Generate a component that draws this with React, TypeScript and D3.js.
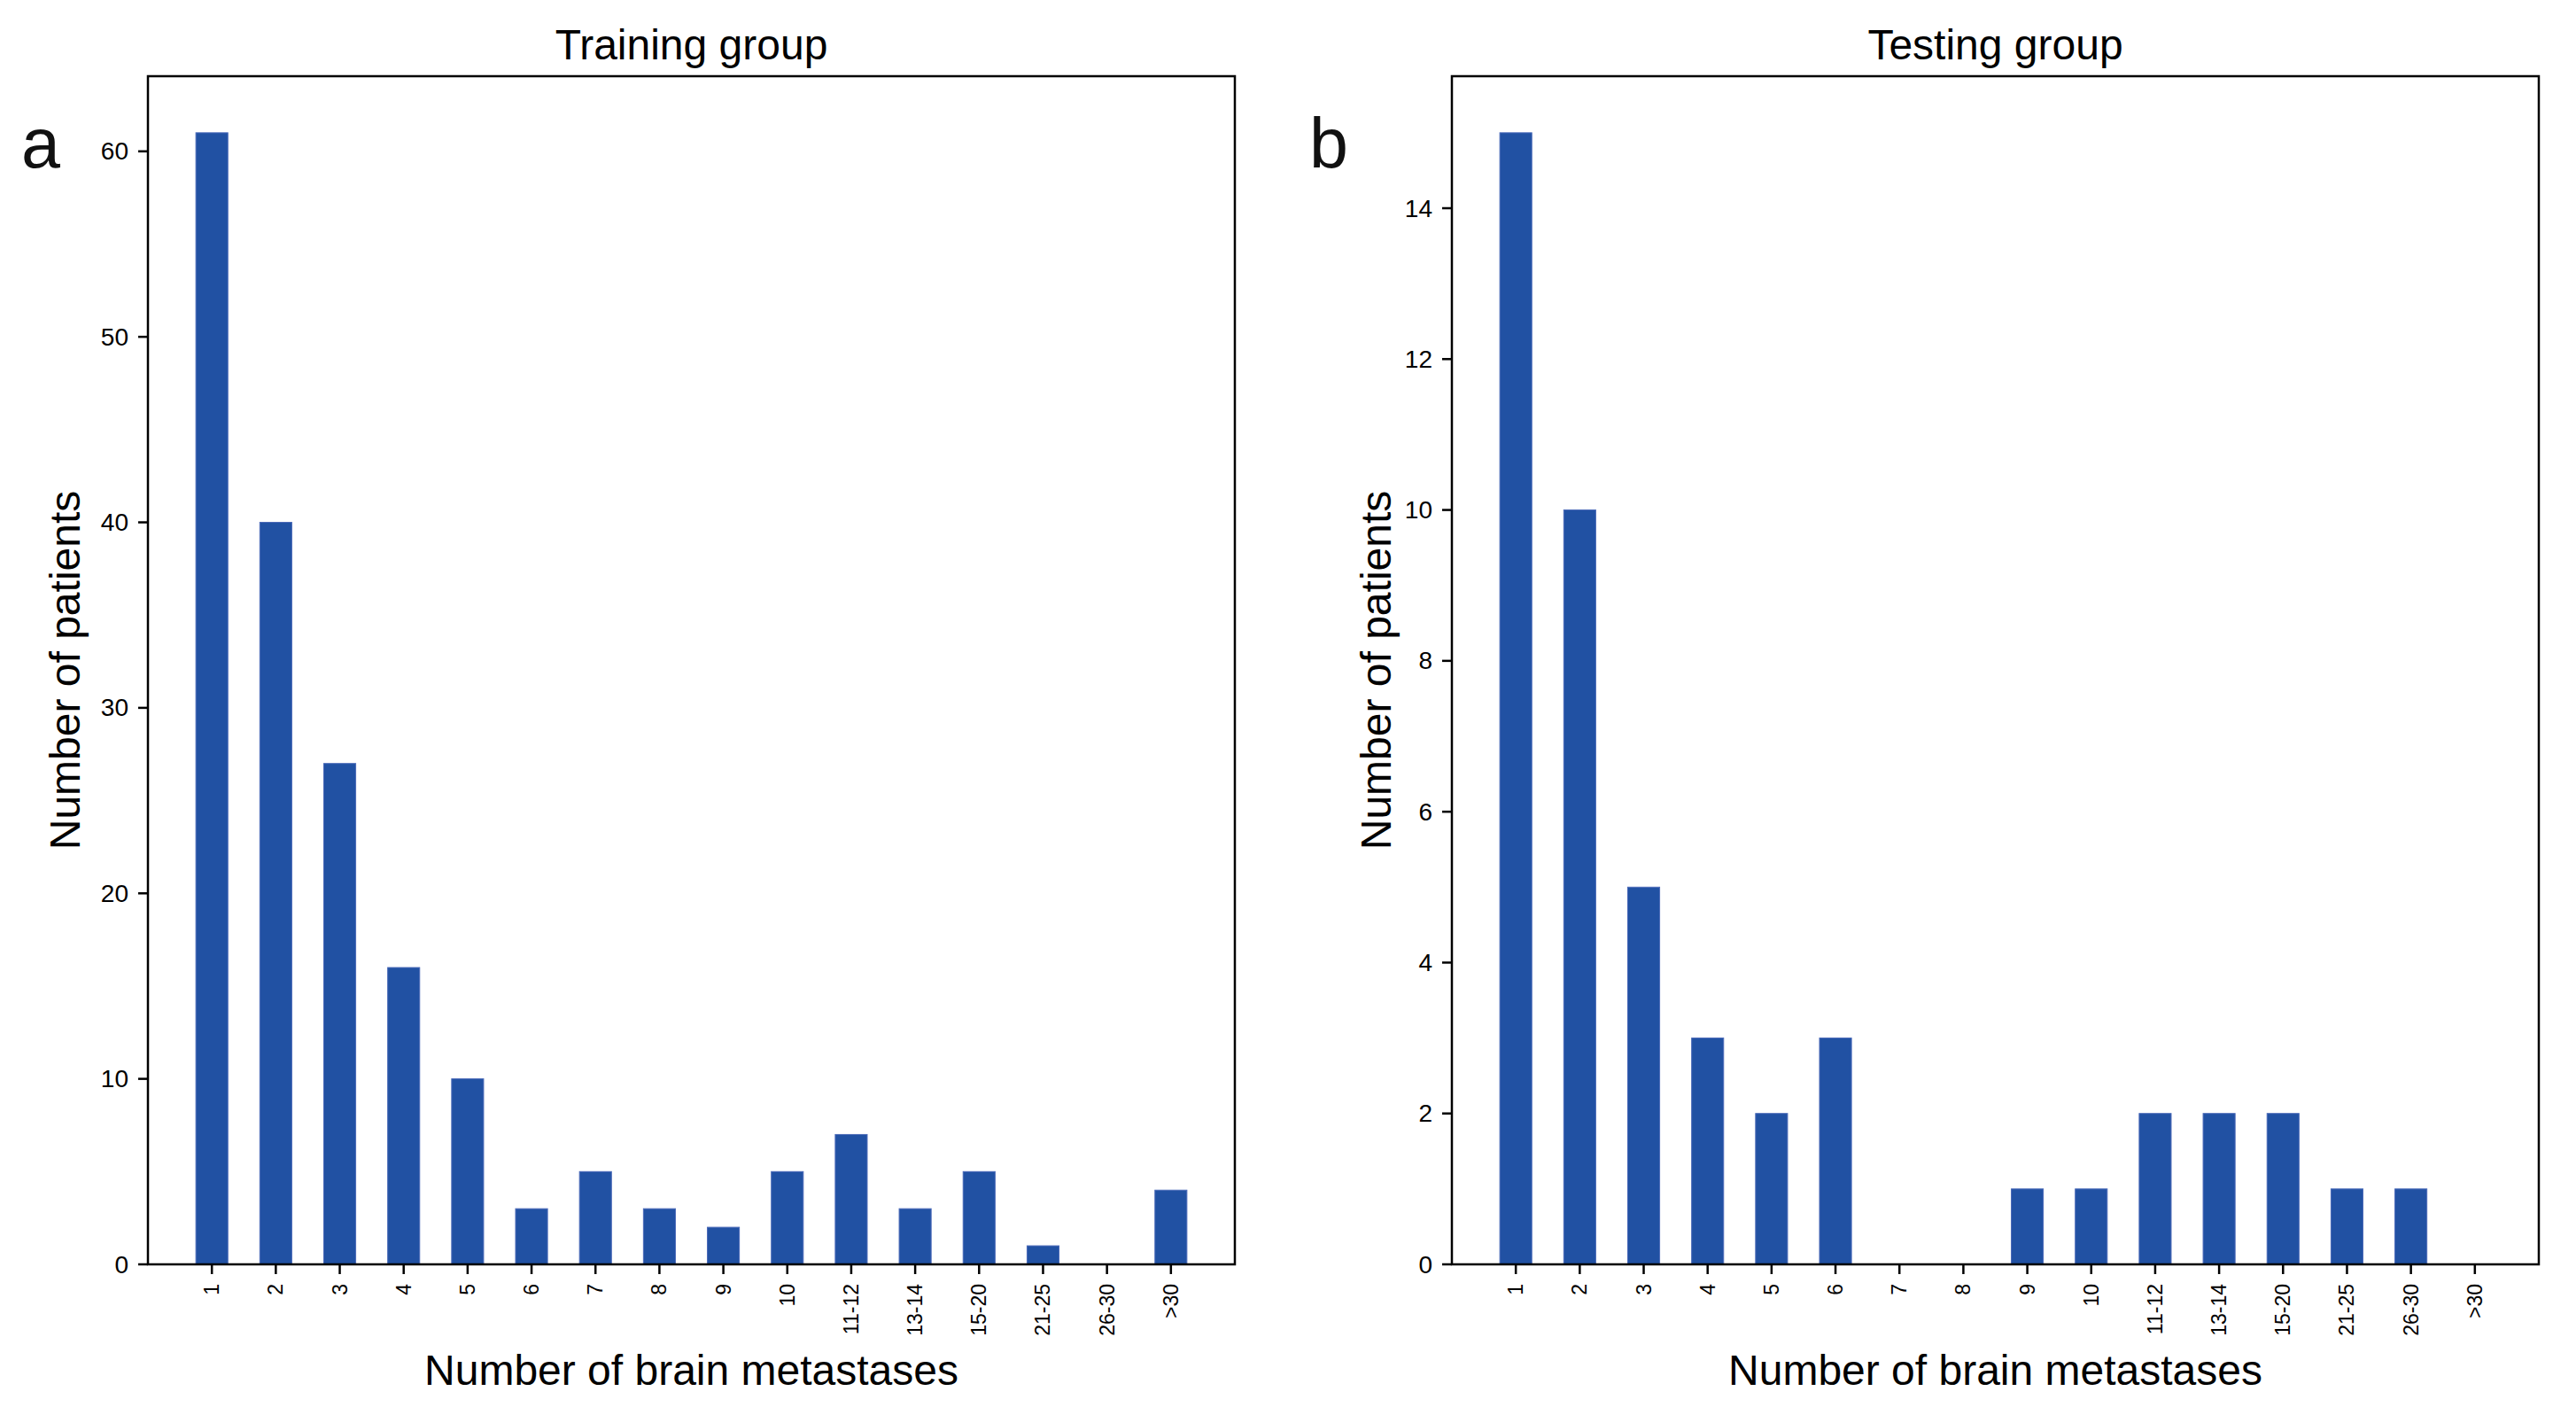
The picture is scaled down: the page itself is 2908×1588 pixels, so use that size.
import * as d3 from 'd3';

const categories = ['1', '2', '3', '4', '5', '6', '7', '8', '9', '10', '11-12', '13-14', '15-20', '21-25', '26-30', '>30'];
const trainingCounts = [61, 40, 27, 16, 10, 3, 5, 3, 2, 5, 7, 3, 5, 1, 0, 4];
const testingCounts = [15, 10, 5, 3, 2, 3, 0, 0, 1, 1, 2, 2, 2, 1, 1, 0];
const trainingTicks = [0, 10, 20, 30, 40, 50, 60];
const testingTicks = [0, 2, 4, 6, 8, 10, 12, 14];

const W = 2908;
const H = 1588;
const FONT = '"Liberation Sans", Arial, Helvetica, sans-serif';
const BAR = '#2151a3';

type PanelProps = {
  left: number;
  title: string;
  letter: string;
  letterX: number;
  values: number[];
  ticks: number[];
  yLabelOffset: number;
};

function Panel({ left, title, letter, letterX, values, ticks, yLabelOffset }: PanelProps) {
  const top = 86;
  const bottom = 1427;
  const width = 1227;

  // pandas-style bar plot: categories at 0..n-1, one unit of padding each side
  const x = d3.scaleLinear().domain([-1, categories.length]).range([left, left + width]);
  const yMax = d3.max(values)! * 1.05;
  const y = d3.scaleLinear().domain([0, yMax]).range([bottom, top]);
  const bw = x(0.25) - x(0);

  return (
    <g>
      <text x={(left + left + width) / 2} y={67} textAnchor="middle" fontSize={48} fontFamily={FONT} fill="#000">
        {title}
      </text>
      <text x={letterX} y={189} fontSize={79} fontFamily={FONT} fill="#111">
        {letter}
      </text>

      {values.map((v, i) => (
        <rect
          key={i}
          x={x(i) - bw}
          y={y(v)}
          width={bw * 2}
          height={bottom - y(v)}
          fill={BAR}
          stroke={v > 0 ? '#4a69b8' : 'none'}
          strokeWidth={1}
        />
      ))}

      {/* y ticks */}
      {ticks.map(t => (
        <g key={t}>
          <line x1={left - 11} x2={left} y1={y(t)} y2={y(t)} stroke="#000" strokeWidth={2.5} />
          <text
            x={left - 22}
            y={y(t)}
            textAnchor="end"
            dominantBaseline="central"
            fontSize={28}
            fontFamily={FONT}
            fill="#000"
          >
            {t}
          </text>
        </g>
      ))}

      {/* x ticks */}
      {categories.map((c, i) => (
        <g key={c}>
          <line x1={x(i)} x2={x(i)} y1={bottom} y2={bottom + 11} stroke="#000" strokeWidth={2.5} />
          <text
            transform={`translate(${x(i)},${bottom + 22}) rotate(-90)`}
            textAnchor="end"
            dominantBaseline="central"
            fontSize={23}
            fontFamily={FONT}
            fill="#000"
          >
            {c}
          </text>
        </g>
      ))}

      <rect x={left} y={top} width={width} height={bottom - top} fill="none" stroke="#000" strokeWidth={2.5} />

      <text
        x={(left + left + width) / 2}
        y={1563}
        textAnchor="middle"
        fontSize={48}
        fontFamily={FONT}
        fill="#000"
      >
        Number of brain metastases
      </text>
      <text
        transform={`translate(${left - yLabelOffset},${(top + bottom) / 2}) rotate(-90)`}
        textAnchor="middle"
        dominantBaseline="central"
        fontSize={48}
        fontFamily={FONT}
        fill="#000"
      >
        Number of patients
      </text>
    </g>
  );
}

export default function App() {
  return (
    <svg
      width={W}
      height={H}
      viewBox={`0 0 ${W} ${H}`}
      style={{ position: 'absolute', left: 0, top: 0, display: 'block', background: '#fff' }}
    >
      <rect width={W} height={H} fill="#fff" />
      <Panel
        left={167}
        title="Training group"
        letter="a"
        letterX={24}
        values={trainingCounts}
        ticks={trainingTicks}
        yLabelOffset={94}
      />
      <Panel
        left={1639}
        title="Testing group"
        letter="b"
        letterX={1478}
        values={testingCounts}
        ticks={testingTicks}
        yLabelOffset={86}
      />
    </svg>
  );
}
